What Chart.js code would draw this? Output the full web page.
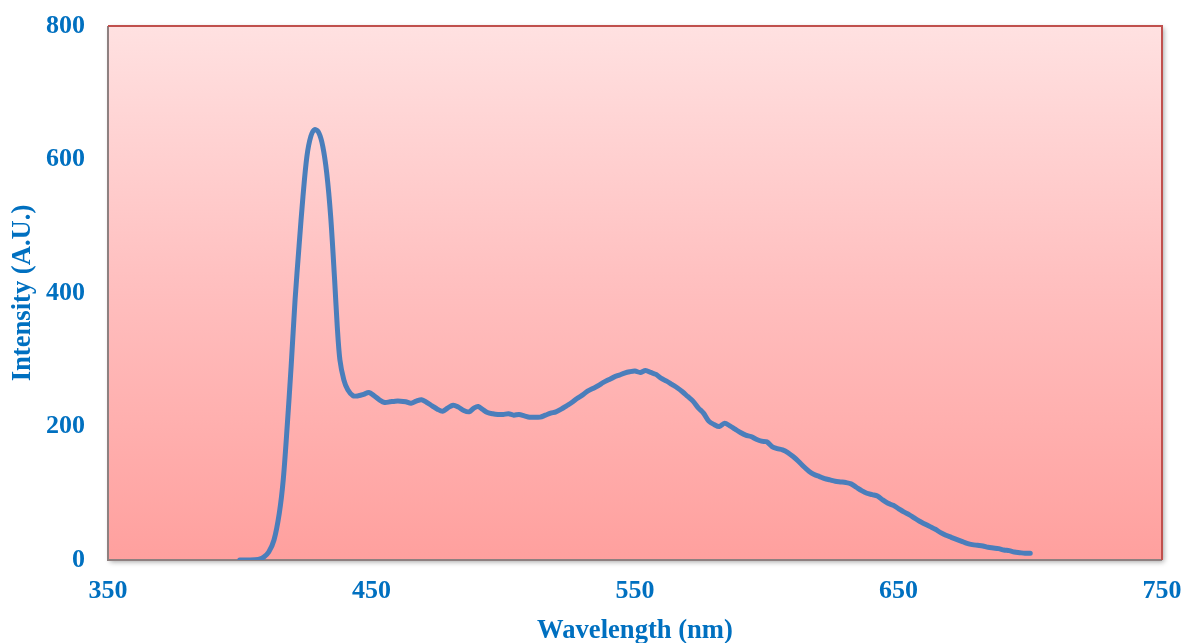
<!DOCTYPE html>
<html>
<head>
<meta charset="utf-8">
<script src="https://cdn.jsdelivr.net/npm/chart.js@4/dist/chart.umd.min.js"></script>
<style>
html,body{margin:0;padding:0;background:#fff;}
#wrap{width:1184px;height:643px;position:relative;}
</style>
</head>
<body>
<div id="wrap"><canvas id="c" width="1184" height="643"></canvas></div>
<script>
const wavelengths = [400,404,407,409,411,413,415,416.5,418,419.5,421,422.5,424,425.5,427,428.5,430,431.5,433,434.5,436,437,438,439.5,441,443,445,447,449,451,453,455,457,459,461,463,465,467,469,471,473,475,477,479,481,483,485,487,489,490.5,492,494,496,498,500,502,504,506,508,510,512,514,516,518,520,522,524,526,528,530,532,534,536,538,540,542,544,546,548,550,552,554,556,558,560,562,564,566,568,570,572,574,576,578,580,582,584,586,588,590,592,594,596,598,600,602,604,606,608,610,612,614,616,618,620,622,624,626,628,630,632,634,636,638,640,642,644,646,648,650,652,654,656,658,660,662,664,666,668,670,672,674,676,678,680,682,684,686,688,690,692,694,696,698,700];
const intensity = [0,0,1,4,12,30,70,120,200,290,390,470,545,605,635,645,640,620,580,515,420,350,300,270,255,246,246,248,251,246,240,236,237,238,238,237,235,238,240,236,231,226,223,228,232,229,224,222,228,230,226,221,219,218,218,219,217,218,216,214,214,214,217,220,222,226,231,236,242,247,253,257,261,266,270,274,277,280,282,283,281,284,281,278,272,268,263,258,252,245,238,228,220,208,203,200,205,201,196,191,187,185,181,178,177,170,167,165,161,155,148,140,133,128,125,122,120,118,117,116,114,109,104,100,98,96,90,85,82,77,72,68,63,58,54,50,46,41,37,34,31,28,25,23,22,21,19,18,17,15,14,12,11,10,10];
const xTicks = [350,450,550,650,750];
const yTicks = [0,200,400,600,800];

const blue = '#0070C0';
const fam = '"Liberation Serif","Times New Roman",serif';
const tickFont = {family:fam, size:26, weight:'bold', lineHeight:1.2};
const titleFont = {family:fam, size:26.6, weight:'bold', lineHeight:1.2};

const bgPlugin = {
  id:'bgPlugin',
  beforeDatasetsDraw(chart){
    const {ctx, chartArea:a} = chart;
    ctx.save();
    ctx.shadowColor='rgba(0,0,0,0.35)';
    ctx.shadowBlur=5; ctx.shadowOffsetX=2; ctx.shadowOffsetY=2;
    const g = ctx.createLinearGradient(0,a.top,0,a.bottom);
    g.addColorStop(0,'#FFE1E1');
    g.addColorStop(0.5,'#FFBEBE');
    g.addColorStop(1,'#FFA09E');
    ctx.fillStyle=g;
    ctx.fillRect(a.left,a.top,a.right-a.left,a.bottom-a.top);
    ctx.restore();
    ctx.save();
    ctx.lineWidth=2;
    ctx.strokeStyle='#8E8080';
    ctx.beginPath();
    ctx.moveTo(a.left,a.top); ctx.lineTo(a.left,a.bottom); ctx.lineTo(a.right,a.bottom);
    ctx.stroke();
    ctx.strokeStyle='#C0504D';
    ctx.beginPath();
    ctx.moveTo(a.left,a.top); ctx.lineTo(a.right,a.top); ctx.lineTo(a.right,a.bottom);
    ctx.stroke();
    ctx.restore();
  }
};

new Chart(document.getElementById('c'), {
  type:'scatter',
  data:{datasets:[{
    data: wavelengths.map((w,i)=>({x:w,y:intensity[i]})),
    showLine:true,
    borderColor:'#4A7EBB',
    borderWidth:5,
    pointRadius:0,
    tension:0.3,
    borderJoinStyle:'round',
    borderCapStyle:'round',
    fill:false
  }]},
  options:{
    responsive:false,
    animation:false,
    layout:{padding:{top:26,right:22,left:0,bottom:0}},
    plugins:{legend:{display:false},tooltip:{enabled:false}},
    scales:{
      x:{
        type:'linear', min:350, max:750,
        afterBuildTicks(s){ s.ticks = xTicks.map(v=>({value:v})); },
        afterFit(s){ s.height = 83; s.paddingLeft = 0; s.paddingRight = 0; },
        grid:{display:false, drawTicks:false},
        border:{display:false},
        ticks:{color:blue, font:tickFont, padding:16, maxRotation:0},
        title:{display:true, text:'Wavelength (nm)', color:blue, font:titleFont, padding:{top:0,bottom:-4}}
      },
      y:{
        type:'linear', min:0, max:800,
        afterBuildTicks(s){ s.ticks = yTicks.map(v=>({value:v})); },
        afterFit(s){ s.width = 108; s.paddingTop = 0; s.paddingBottom = 0; },
        grid:{display:false, drawTicks:false},
        border:{display:false},
        ticks:{color:blue, font:tickFont, padding:23},
        title:{display:true, text:'Intensity (A.U.)', color:blue, font:titleFont, padding:{top:7,bottom:0}}
      }
    }
  },
  plugins:[bgPlugin]
});
</script>
</body>
</html>
